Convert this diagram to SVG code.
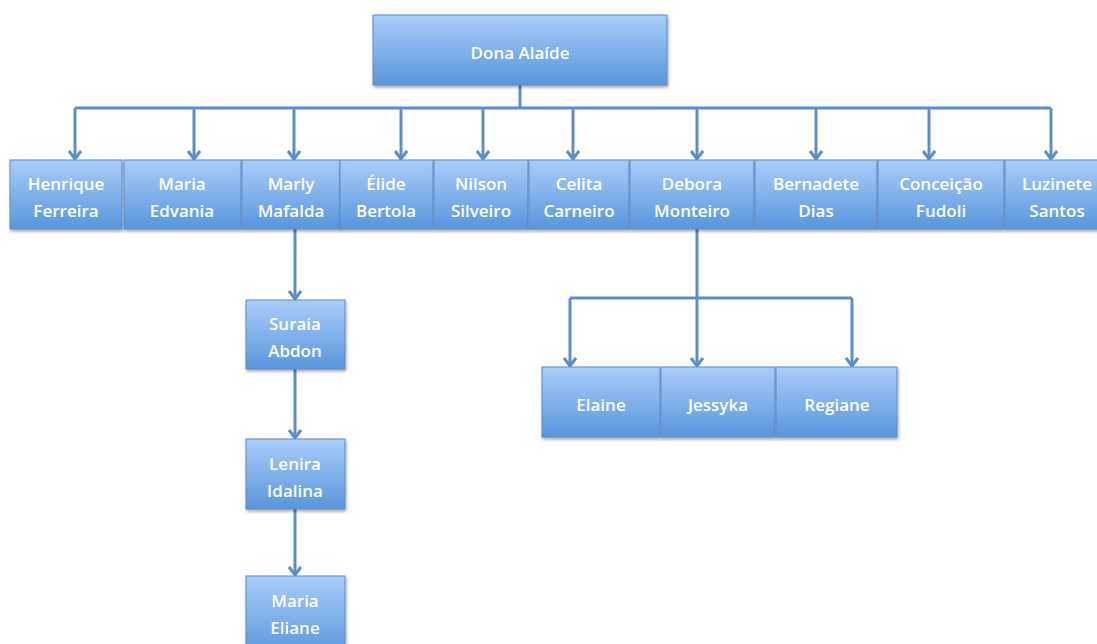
<svg xmlns="http://www.w3.org/2000/svg" width="1097" height="644" viewBox="0 0 1097 644">
<defs>
<linearGradient id="g" x1="0" y1="0" x2="0" y2="1">
<stop offset="0" stop-color="#a9cdfa"/>
<stop offset="1" stop-color="#5996dc"/>
</linearGradient>
<filter id="sh" x="-10%" y="-10%" width="125%" height="130%">
<feDropShadow dx="1" dy="2" stdDeviation="1.5" flood-color="#000" flood-opacity="0.35"/>
</filter>
<marker id="ar" markerWidth="12" markerHeight="14" refX="11" refY="7" orient="auto" markerUnits="userSpaceOnUse" viewBox="0 0 12 14">
<path d="M3,1 L11,7 L3,13" fill="none" stroke="#5b8ec8" stroke-width="3"/>
</marker>
</defs>
<style>
.b{fill:url(#g);stroke:#5a8cc8;stroke-width:1;filter:url(#sh)}
.t{fill:#fff;font-family:"Open Sans","Liberation Sans",sans-serif;font-size:17px;font-weight:600;text-anchor:middle}
.c{fill:none;stroke:#5b8ec8;stroke-width:3}
</style>
<g id="connectors">
<path class="c" d="M520,85 V108 M75,108 H1051"/>
<path class="c" marker-end="url(#ar)" d="M75,108 V159"/>
<path class="c" marker-end="url(#ar)" d="M194,108 V159"/>
<path class="c" marker-end="url(#ar)" d="M294,108 V159"/>
<path class="c" marker-end="url(#ar)" d="M401,108 V159"/>
<path class="c" marker-end="url(#ar)" d="M483,108 V159"/>
<path class="c" marker-end="url(#ar)" d="M573,108 V159"/>
<path class="c" marker-end="url(#ar)" d="M697,108 V159"/>
<path class="c" marker-end="url(#ar)" d="M816,108 V159"/>
<path class="c" marker-end="url(#ar)" d="M929,108 V159"/>
<path class="c" marker-end="url(#ar)" d="M1051,108 V159"/>
<path class="c" marker-end="url(#ar)" d="M295,229 V299"/>
<path class="c" marker-end="url(#ar)" d="M295,369 V438"/>
<path class="c" marker-end="url(#ar)" d="M295,509 V575"/>
<path class="c" d="M697,229 V298 M570,298 H852"/>
<path class="c" marker-end="url(#ar)" d="M570,298 V366"/>
<path class="c" marker-end="url(#ar)" d="M697,298 V366"/>
<path class="c" marker-end="url(#ar)" d="M852,298 V366"/>
</g>
<g id="dona-alaide"><rect class="b" x="373" y="15" width="294" height="70"/><text class="t" x="520" y="59">Dona Alaíde</text></g>
<g id="henrique"><rect class="b" x="10" y="160" width="112" height="69"/><text class="t" x="66" y="190">Henrique</text><text class="t" x="66" y="217">Ferreira</text></g>
<g id="maria-edvania"><rect class="b" x="124" y="160" width="117" height="69"/><text class="t" x="182" y="190">Maria</text><text class="t" x="182" y="217">Edvania</text></g>
<g id="marly"><rect class="b" x="242" y="160" width="98" height="69"/><text class="t" x="291" y="190">Marly</text><text class="t" x="291" y="217">Mafalda</text></g>
<g id="elide"><rect class="b" x="340" y="160" width="93" height="69"/><text class="t" x="386" y="190">Élide</text><text class="t" x="386" y="217">Bertola</text></g>
<g id="nilson"><rect class="b" x="434" y="160" width="94" height="69"/><text class="t" x="481" y="190">Nilson</text><text class="t" x="481" y="217">Silveiro</text></g>
<g id="celita"><rect class="b" x="529" y="160" width="100" height="69"/><text class="t" x="579" y="190">Celita</text><text class="t" x="579" y="217">Carneiro</text></g>
<g id="debora"><rect class="b" x="630" y="160" width="124" height="69"/><text class="t" x="692" y="190">Debora</text><text class="t" x="692" y="217">Monteiro</text></g>
<g id="bernadete"><rect class="b" x="755" y="160" width="122" height="69"/><text class="t" x="816" y="190">Bernadete</text><text class="t" x="816" y="217">Dias</text></g>
<g id="conceicao"><rect class="b" x="878" y="160" width="126" height="69"/><text class="t" x="941" y="190">Conceição</text><text class="t" x="941" y="217">Fudoli</text></g>
<g id="luzinete"><rect class="b" x="1005" y="160" width="100" height="69"/><text class="t" x="1057" y="190">Luzinete</text><text class="t" x="1057" y="217">Santos</text></g>
<g id="suraia"><rect class="b" x="246" y="300" width="99" height="69"/><text class="t" x="295" y="330">Suraia</text><text class="t" x="295" y="357">Abdon</text></g>
<g id="lenira"><rect class="b" x="246" y="439" width="99" height="70"/><text class="t" x="295" y="470">Lenira</text><text class="t" x="295" y="497">Idalina</text></g>
<g id="maria-eliane"><rect class="b" x="246" y="576" width="99" height="80"/><text class="t" x="295" y="607">Maria</text><text class="t" x="295" y="634">Eliane</text></g>
<g id="elaine"><rect class="b" x="542" y="367" width="118" height="70"/><text class="t" x="601" y="411">Elaine</text></g>
<g id="jessyka"><rect class="b" x="661" y="367" width="114" height="70"/><text class="t" x="718" y="411">Jessyka</text></g>
<g id="regiane"><rect class="b" x="776" y="367" width="121" height="70"/><text class="t" x="837" y="411">Regiane</text></g>
</svg>
